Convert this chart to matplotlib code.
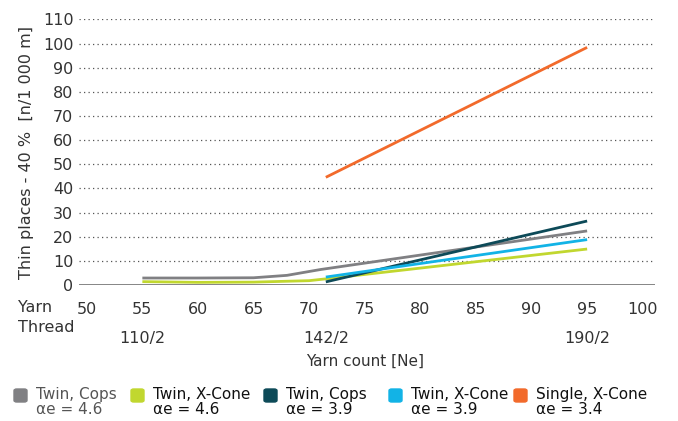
import matplotlib.pyplot as plt
from matplotlib.patches import FancyBboxPatch

# values (yarn count Ne -> thin places)
x_cops46 = [55, 60, 65, 68, 71, 95]
y_cops46 = [2.9, 2.9, 3.0, 4.0, 6.4, 22.4]
x_xcone46 = [55, 60, 65, 70, 72, 95]
y_xcone46 = [1.4, 1.1, 1.2, 1.8, 2.8, 14.9]
x_cops39 = [71.5, 95]
y_cops39 = [1.3, 26.5]
x_xcone39 = [71.5, 95]
y_xcone39 = [3.3, 18.8]
x_single34 = [71.5, 95]
y_single34 = [44.6, 98.4]

xticks = [50, 55, 60, 65, 70, 75, 80, 85, 90, 95, 100]
yticks = [0, 10, 20, 30, 40, 50, 60, 70, 80, 90, 100, 110]
thread_pos = [55, 71.5, 95]
thread_lbl = ['110/2', '142/2', '190/2']

names = ['Twin, Cops\nαe = 4.6', 'Twin, X-Cone\nαe = 4.6', 'Twin, Cops\nαe = 3.9',
         'Twin, X-Cone\nαe = 3.9', 'Single, X-Cone\nαe = 3.4']
colors = ['#808083', '#c1d72f', '#0d4a58', '#12b3e6', '#f26a2b']

plt.rcParams['font.family'] = ['DejaVu Sans']

fig = plt.figure(figsize=(6.78, 4.21), dpi=100)
ax = fig.add_axes([0.1165, 0.323, 0.8495, 0.631])

series = [(x_cops46, y_cops46), (x_xcone46, y_xcone46), (x_cops39, y_cops39),
          (x_xcone39, y_xcone39), (x_single34, y_single34)]
for (xs, ys), c in zip(series, colors):
    ax.plot(xs, ys, color=c, lw=2.0, solid_capstyle='butt')

ax.set_xlim(49.3, 101.1)
ax.set_ylim(0, 110)
ax.set_yticks(yticks)
ax.set_xticks(xticks)
for yv in yticks[1:]:
    ax.axhline(yv, color='#555555', lw=0.9, ls=(0, (1, 2.6)), zorder=0)
ax.axhline(0, color='#7a7a7a', lw=2, zorder=1)
for s in ax.spines.values():
    s.set_visible(False)
ax.tick_params(length=0, labelsize=11.5, colors='#333333', pad=4)
ax.tick_params(axis='x', pad=12)
ax.set_ylabel('Thin places - 40 %  [n/1 000 m]', fontsize=11.5, color='#333333', labelpad=6)

for p, t in zip(thread_pos, thread_lbl):
    ax.text(p, -22, t, ha='center', va='center', fontsize=11.5, color='#333333', clip_on=False)
fig.text(0.027, 1 - 308 / 421, 'Yarn', fontsize=11.5, color='#333333', va='center')
fig.text(0.027, 1 - 327 / 421, 'Thread', fontsize=11.5, color='#333333', va='center')
fig.text(0.538, 1 - 361 / 421, 'Yarn count [Ne]', fontsize=11, color='#333333', ha='center', va='center')

# legend drawn by hand (two-line labels, square aligned with first line)
leg_x = [14, 131, 264, 389, 514]
for i, (lx, name, c) in enumerate(zip(leg_x, names, colors)):
    fig.patches.append(FancyBboxPatch((lx / 678, 1 - 402 / 421), 13 / 678, 13 / 421,
                                      boxstyle='round,pad=0,rounding_size=0.004',
                                      transform=fig.transFigure, color=c))
    fig.text((lx + 22) / 678, 1 - 402 / 421, name, fontsize=11, va='center',
             color='#555555' if i == 0 else '#111111', linespacing=0.95)

fig.savefig('out.png', dpi=100)
